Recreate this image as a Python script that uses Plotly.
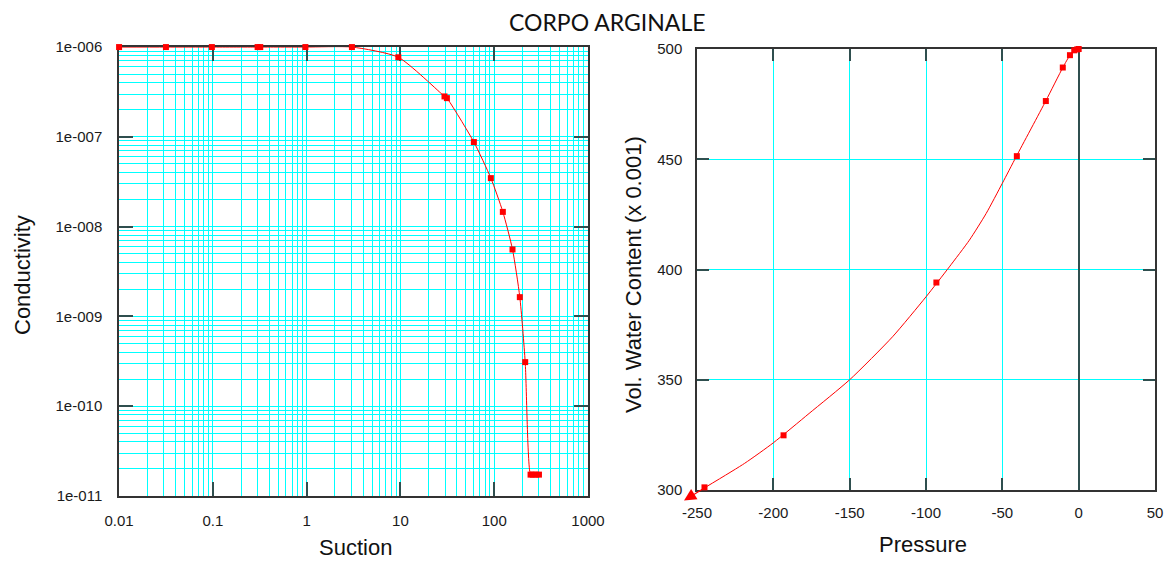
import plotly.graph_objects as go

# ---- Data: left chart (Conductivity vs Suction) ----
suction = [0.01, 0.0316, 0.0976, 0.30, 0.32, 0.97, 3.04, 9.5, 29.5, 31.3, 60.7, 92.1,
           123.6, 156.7, 187.5, 214, 244, 258, 280, 300]
conductivity = [1e-6, 1e-6, 1e-6, 1e-6, 1e-6, 1e-6, 1e-6, 7.7e-7, 2.82e-7, 2.70e-7, 8.75e-8, 3.47e-8,
                1.46e-8, 5.57e-9, 1.64e-9, 3.1e-10, 1.73e-11, 1.73e-11, 1.73e-11, 1.73e-11]

# ---- Data: right chart (Vol. Water Content vs Pressure) ----
pressure_pts = [-245.1, -193.3, -93.2, -40.5, -21.5, -10.4, -5.7, -2.9, -1.0, 0.0]
vwc_pts = [301.2, 324.8, 394.1, 451.4, 476.4, 491.6, 497.2, 499.4, 499.8, 500.0]

curve_pressure = [-245.0, -218.8, -200.0, -176.6, -150.0, -121.9, -100.0, -84.7, -71.6,
                  -60.6, -50.0, -40.9, -21.5, -10.3, -5.7, -2.8, 0.0]
curve_vwc = [301.0, 312.1, 321.4, 334.7, 350.0, 369.5, 387.6, 401.2, 413.3,
             425.4, 439.1, 451.2, 476.5, 491.7, 497.2, 499.5, 500.0]
arrow_tip = (-258.5, 295.2)

x_ticks_left = [0.01, 0.1, 1, 10, 100, 1000]
x_ticktext_left = ["0.01", "0.1", "1", "10", "100", "1000"]
y_ticks_left = [1e-6, 1e-7, 1e-8, 1e-9, 1e-10, 1e-11]
y_ticktext_left = ["1e-006", "1e-007", "1e-008", "1e-009", "1e-010", "1e-011"]
x_ticks_right = [-250, -200, -150, -100, -50, 0, 50]
x_ticktext_right = ["-250", "-200", "-150", "-100", "-50", "0", "50"]
y_ticks_right = [300, 350, 400, 450, 500]

RED = "#FF0000"
CYAN = "#00FFFF"
TICKC = "#2F4F4F"
FONT = "Liberation Sans, Arial, sans-serif"

fig = go.Figure()

fig.add_trace(go.Scatter(
    x=suction, y=conductivity, mode="lines+markers",
    line=dict(color=RED, width=1, shape="spline", smoothing=0.6),
    marker=dict(symbol="square", size=6, color=RED),
    cliponaxis=False, xaxis="x", yaxis="y", showlegend=False))

fig.add_trace(go.Scatter(
    x=curve_pressure, y=curve_vwc, mode="lines",
    line=dict(color=RED, width=1, shape="spline", smoothing=0.6),
    cliponaxis=False, xaxis="x2", yaxis="y2", showlegend=False))
fig.add_trace(go.Scatter(
    x=pressure_pts, y=vwc_pts, mode="markers",
    marker=dict(symbol="square", size=6, color=RED),
    cliponaxis=False, xaxis="x2", yaxis="y2", showlegend=False))

def axis_style(ticklen):
    return dict(ticks="inside", ticklen=ticklen, tickwidth=1.5, tickcolor=TICKC,
                tickfont=dict(family=FONT, size=15, color="#1a1a1a"),
                showline=True, linecolor="#333333", linewidth=1.5, mirror="ticks",
                automargin=False, layer="below traces")

def label(text, x, y, size=22, angle=0, family=FONT):
    return dict(text=text, x=x / 1168, y=(561 - y) / 561, xref="paper", yref="paper",
                xanchor="center", yanchor="middle", showarrow=False, textangle=angle,
                font=dict(family=family, size=size, color="#111"))

fig.update_layout(
    width=1168, height=561,
    margin=dict(l=0, r=0, t=0, b=0, autoexpand=False),
    paper_bgcolor="white", plot_bgcolor="white",
    xaxis=dict(domain=[119 / 1168, 588 / 1168], anchor="y", type="log", range=[-2.0008, 3],
               tickvals=x_ticks_left, ticktext=x_ticktext_left,
               showgrid=True, gridcolor=CYAN, gridwidth=1,
               minor=dict(dtick="D1", showgrid=True, gridcolor=CYAN, gridwidth=1, ticks=""),
               ticklabelstandoff=10, zeroline=False, **axis_style(14)),
    yaxis=dict(domain=[(561 - 496) / 561, (561 - 47) / 561], anchor="x", type="log",
               range=[-11, -5.9992],
               tickvals=y_ticks_left, ticktext=y_ticktext_left,
               showgrid=True, gridcolor=CYAN, gridwidth=1,
               minor=dict(dtick="D1", showgrid=True, gridcolor=CYAN, gridwidth=1, ticks=""),
               ticklabelstandoff=12, zeroline=False, **axis_style(14)),
    xaxis2=dict(domain=[697 / 1168, 1155 / 1168], anchor="y2", range=[-250, 50],
                tickvals=x_ticks_right, ticktext=x_ticktext_right,
                showgrid=True, gridcolor=CYAN, gridwidth=1,
                zeroline=True, zerolinecolor=TICKC, zerolinewidth=1.5,
                ticklabelstandoff=8, **axis_style(12)),
    yaxis2=dict(domain=[(561 - 490) / 561, (561 - 49) / 561], anchor="x2", range=[300, 500],
                tickvals=y_ticks_right, showgrid=True, gridcolor=CYAN, gridwidth=1,
                zeroline=False, ticklabelstandoff=10, **axis_style(12)),
    annotations=[
        label("CORPO ARGINALE", 607, 22, size=23, family="Lato, Open Sans, sans-serif"),
        label("Conductivity", 22, 275, angle=-90),
        label("Suction", 355, 547),
        label("Pressure", 923, 544),
        label("Vol. Water Content (x 0.001)", 633, 275, angle=-90),
        dict(x=arrow_tip[0], y=arrow_tip[1], xref="x2", yref="y2",
             ax=curve_pressure[0], ay=curve_vwc[0], axref="x2", ayref="y2",
             text="", showarrow=True, arrowhead=2, arrowsize=2.2, arrowwidth=1.1,
             arrowcolor=RED),
    ],
)

fig.write_html("out.html")
